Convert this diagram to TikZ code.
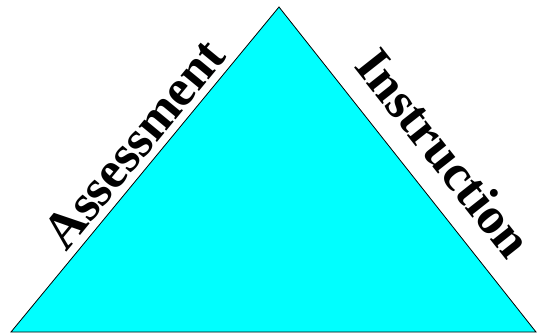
\documentclass[tikz,border=0pt]{standalone}
\usepackage{fontspec}
\setmainfont{Liberation Serif}
\definecolor{triacyan}{RGB}{0,255,255}
\begin{document}
\begin{tikzpicture}[x=1pt,y=-1pt,
  sidelabel/.style={font=\fontsize{52}{52}\selectfont\bfseries,inner sep=0pt}]
\useasboundingbox (0,0) rectangle (538,335);
\coordinate (apex) at (279,7);
\coordinate (bl) at (11,332);
\coordinate (br) at (536,332);
\draw[fill=triacyan,line width=0.8pt] (bl) -- (apex) -- (br) -- cycle;
\node[sidelabel,rotate=50.5] (assess) at (134,144) {Assessment};
\node[sidelabel,rotate=-51.7] (instr) at (444,153) {Instruction};
\end{tikzpicture}
\end{document}
